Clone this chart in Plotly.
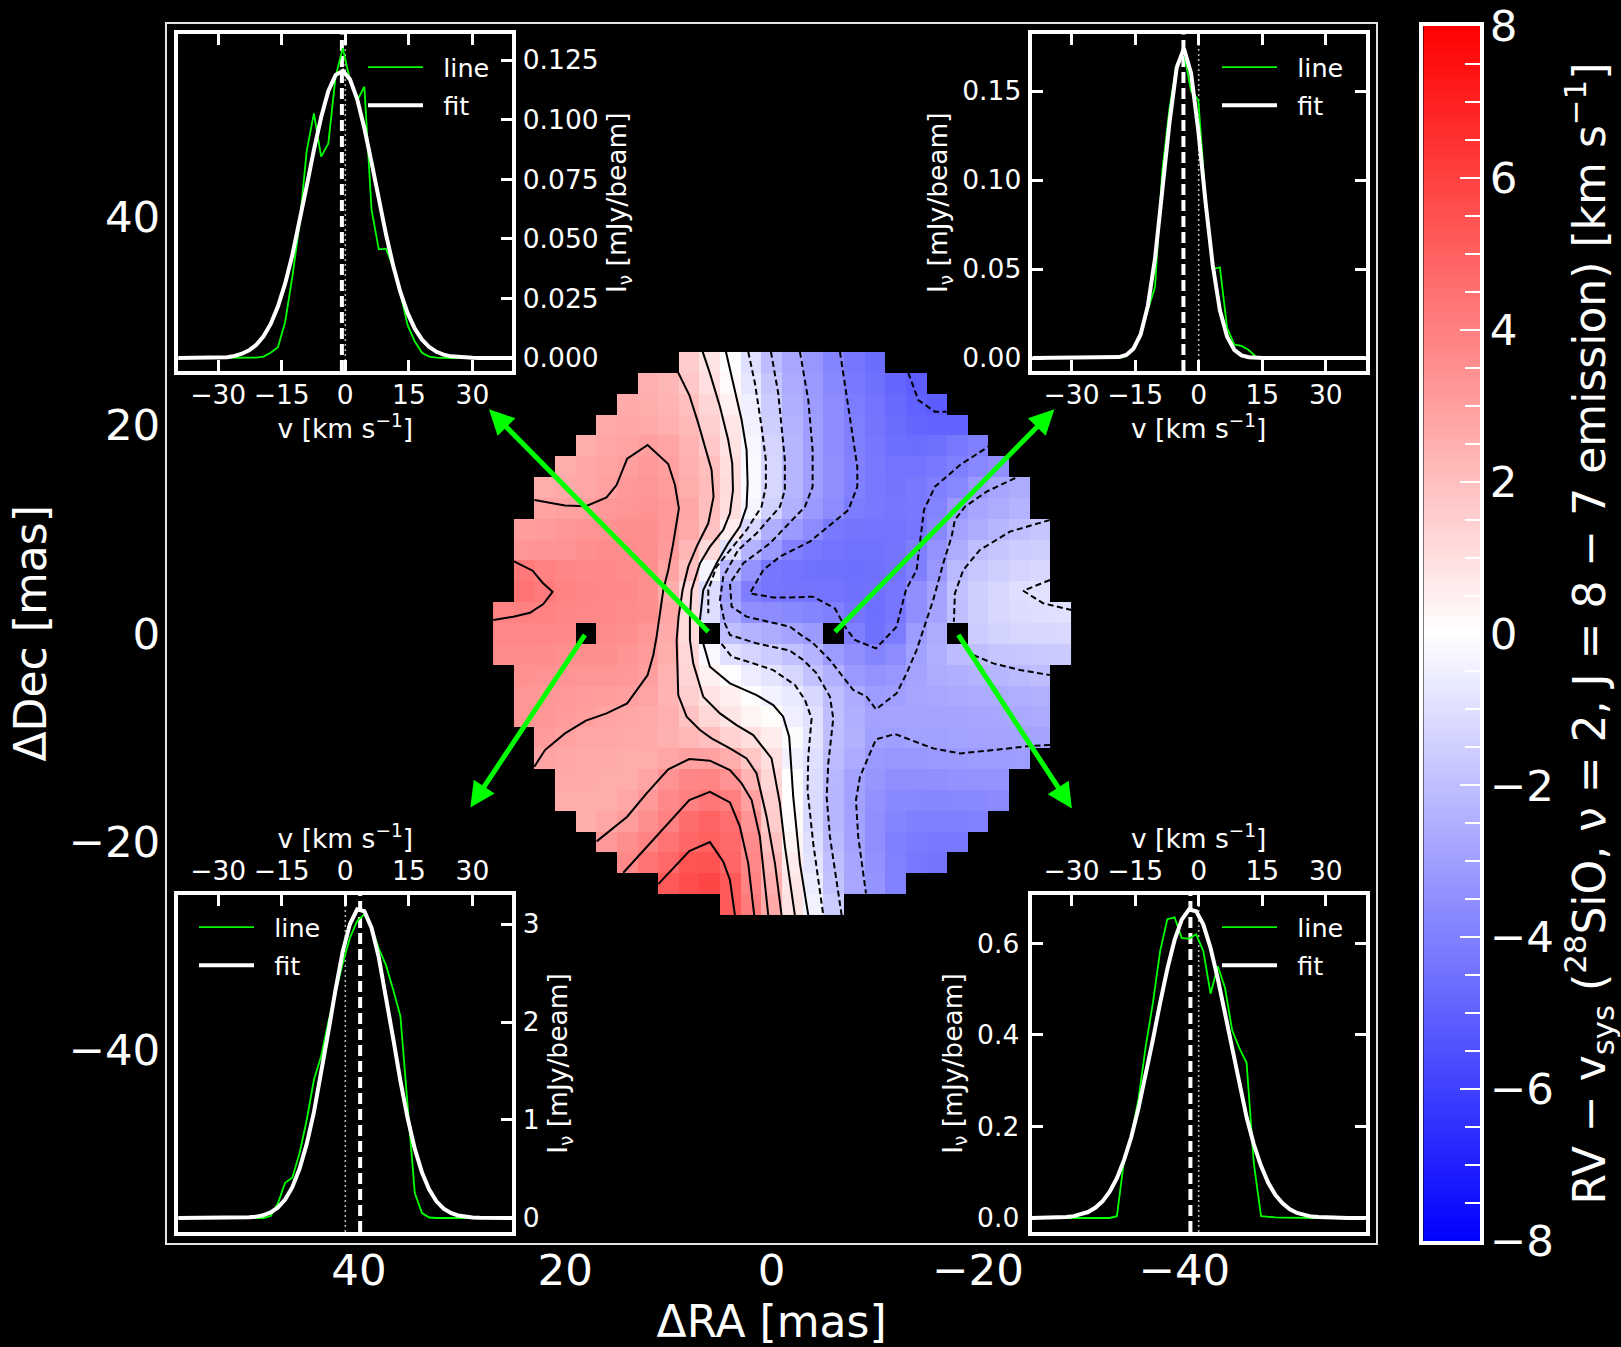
import plotly.graph_objects as go

FIG_W, FIG_H = 1621, 1347
FONT = "DejaVu Sans"
n = None

# ---------- velocity map (RV - vsys, km/s); rows run from Dec +26 to -26 mas ----------
ra_centres = [26, 24, 22, 20, 18, 16, 14, 12, 10, 8, 6, 4, 2, 0, -2, -4, -6, -8, -10, -12,
              -14, -16, -18, -20, -22, -24, -26, -28]
dec_centres = [26, 24, 22, 20, 18, 16, 14, 12, 10, 8, 6, 4, 2, 0, -2, -4, -6, -8, -10, -12,
               -14, -16, -18, -20, -22, -24, -26]
row_first_col = [9, 7, 6, 5, 4, 3, 2, 2, 1, 1, 1, 1, 0, 0, 0, 1, 1, 1, 2, 2, 3, 3, 4, 5, 6, 8, 11]
rv_rows = [
    [1.6, .85, -.05, -1.0, -2.1, -2.75, -3.25, -3.85, -4.3, -4.6],
    [2.5, 2.3, 1.75, 1.0, .2, -.8, -1.8, -2.65, -3.2, -3.7, -4.2, -4.5, -4.8, -5.1],
    [2.65, 2.55, 2.4, 2.0, 1.3, .45, -.5, -1.6, -2.5, -3.1, -3.6, -4.1, -4.4, -4.7, -4.95, -5.1],
    [2.7, 2.75, 2.7, 2.5, 2.2, 1.5, .8, -.4, -1.5, -2.4, -3.05, -3.6, -4.05, -4.35, -4.6, -4.8, -4.9, -4.9],
    [2.6, 2.8, 2.9, 3.0, 2.85, 2.4, 1.75, .9, -.25, -1.35, -2.3, -3.0, -3.6, -4.0, -4.3, -4.55, -4.6, -4.5, -4.25, -4.0],
    [2.6, 2.75, 2.9, 3.05, 3.2, 3.0, 2.5, 2.0, 1.05, -.2, -1.3, -2.3, -3.0, -3.5, -3.95, -4.2, -4.4, -4.4, -4.2, -4.0, -3.75, -3.5],
    [2.6, 2.7, 2.8, 2.95, 3.2, 3.3, 3.1, 2.6, 2.1, 1.1, -.2, -1.3, -2.3, -3.0, -3.5, -3.95, -4.2, -4.35, -4.2, -4.0, -3.75, -3.2, -2.8, -2.6],
    [2.9, 2.95, 3.02, 3.2, 3.3, 3.4, 3.2, 2.75, 2.05, 1.05, -.3, -1.45, -2.45, -3.2, -3.6, -4.1, -4.2, -4.3, -4.2, -3.9, -3.2, -2.8, -2.6, -2.4],
    [3.1, 3.15, 3.25, 3.35, 3.4, 3.5, 3.5, 3.2, 2.7, 1.9, .55, -1.25, -2.5, -3.15, -3.6, -4.2, -4.35, -4.4, -4.4, -4.3, -3.7, -2.9, -2.6, -2.3, -2.0, -1.8],
    [3.3, 3.35, 3.4, 3.5, 3.6, 3.6, 3.5, 3.15, 2.3, 1.15, -1.0, -2.4, -3.2, -3.95, -4.25, -4.4, -4.45, -4.45, -4.35, -4.05, -3.4, -2.6, -2.05, -1.8, -1.6, -1.5],
    [4.2, 3.95, 3.8, 3.7, 3.7, 3.65, 3.5, 2.9, 1.95, -.3, -2.35, -3.4, -4.3, -4.4, -4.45, -4.5, -4.55, -4.5, -4.4, -4.0, -3.25, -2.2, -1.75, -1.5, -1.35, -1.25],
    [4.4, 4.15, 3.9, 3.8, 3.75, 3.7, 3.5, 2.6, 1.2, -1.1, -3.0, -4.05, -4.3, -4.35, -4.35, -4.4, -4.5, -4.45, -4.3, -3.5, -2.9, -1.95, -1.55, -1.3, -1.05, -.9],
    [3.9, 4.0, 3.9, 3.8, 3.75, 3.7, 3.65, 3.5, 2.75, 1.15, -1.05, -2.7, -3.5, -3.6, -3.7, -3.85, -4.0, -4.35, -4.55, -4.3, -3.55, -2.85, -2.0, -1.5, -1.25, -1.1, -1.05, -.95],
    [3.75, 3.75, 3.75, 3.7, n, 3.65, 3.55, 3.3, 2.65, 1.1, n, -2.0, -2.4, -2.6, -2.85, -3.15, n, -4.05, -4.5, -4.1, -3.1, -2.6, n, -1.6, -1.4, -1.3, -1.25, -1.2],
    [3.65, 3.65, 3.6, 3.55, 3.55, 3.5, 3.35, 3.15, 2.55, 1.25, -.2, -.95, -1.35, -1.6, -1.95, -2.4, -3.1, -3.55, -3.85, -3.6, -2.95, -2.5, -2.1, -2.02, -1.85, -1.75, -1.7, -1.65],
    [3.45, 3.4, 3.35, 3.3, 3.3, 3.2, 3.0, 2.4, 1.35, .45, -.05, -.55, -.85, -1.3, -1.9, -2.45, -3.2, -3.4, -3.25, -2.85, -2.6, -2.5, -2.4, -2.3, -2.15, -2.05],
    [3.3, 3.25, 3.2, 3.15, 3.1, 3.0, 2.85, 2.4, 1.5, .9, .5, .1, -.45, -.7, -1.25, -2.05, -2.65, -3.1, -3.0, -2.8, -2.75, -2.7, -2.65, -2.6, -2.5, -2.45],
    [3.3, 3.25, 3.15, 3.05, 2.9, 2.8, 2.7, 2.5, 1.9, 1.25, .8, .35, .1, -.5, -.95, -2.0, -2.5, -2.9, -2.85, -2.85, -2.85, -2.85, -2.8, -2.75, -2.7, -2.65],
    [3.15, 2.95, 2.8, 2.75, 2.7, 2.65, 2.45, 2.25, 2.0, 1.45, 1.05, .55, -.1, -.85, -2.0, -2.45, -2.97, -3.0, -2.92, -2.97, -2.93, -2.9, -2.87, -2.87, -2.85],
    [2.9, 2.75, 2.7, 2.65, 2.6, 2.6, 2.75, 2.98, 2.95, 2.6, 1.8, 1.0, -.45, -1.0, -2.1, -2.65, -3.15, -3.25, -3.25, -3.2, -3.15, -3.1, -3.1, -3.05],
    [2.7, 2.65, 2.6, 2.6, 2.85, 3.4, 3.8, 3.85, 3.4, 2.4, 1.25, 0.0, -1.1, -2.25, -2.9, -3.3, -3.5, -3.5, -3.5, -3.45, -3.4, -3.35],
    [2.6, 2.55, 2.6, 2.8, 3.2, 3.7, 4.0, 4.3, 4.05, 2.95, 1.55, .05, -1.15, -2.3, -2.95, -3.45, -3.7, -3.75, -3.8, -3.75, -3.7, -3.65],
    [2.55, 2.8, 3.1, 3.55, 3.95, 4.6, 4.85, 4.55, 3.35, 1.6, .15, -1.2, -2.3, -2.9, -3.5, -3.85, -4.0, -4.05, -4.0, -3.95],
    [3.2, 3.5, 3.9, 4.4, 4.8, 5.0, 4.7, 3.6, 1.9, .35, -1.0, -2.2, -2.9, -3.55, -4.0, -4.15, -4.2, -4.2],
    [3.7, 4.4, 4.75, 5.35, 5.4, 4.8, 3.75, 2.25, .6, -.85, -2.0, -2.8, -3.45, -3.95, -4.25, -4.35],
    [5.2, 5.6, 5.8, 5.2, 3.9, 2.5, .8, -.6, -1.9, -2.75, -3.35, -3.95],
    [5.15, 4.1, 2.7, .9, -.4, -1.6],
]

# ---------- contours as (RA, Dec) vertices in mas ----------
c_p3_upper = [(23.0, 12.79), (20.03, 12.28), (18.0, 12.2), (16.0, 13.05), (15.03, 14.23), (14.0, 16.76),
              (12.02, 18.07), (10.02, 16.25), (9.37, 14.23), (8.99, 11.99), (9.54, 8.64), (10.02, 6.08),
              (10.5, 4.16), (10.83, 1.6), (11.15, -.32), (11.47, -2.08), (12.02, -4.0), (14.0, -6.72),
              (16.0, -7.68), (18.0, -8.38), (20.03, -9.6), (21.97, -11.2), (23.0, -12.8)]
c_p4_left = [(24.97, 6.91), (23.17, 6.01), (22.2, 4.86), (21.23, 3.98), (22.13, 2.81), (23.42, 1.98),
             (25.04, 1.6), (26.98, 1.28)]
c_p5 = [(10.99, -24.06), (7.98, -20.89), (5.98, -20.03), (4.69, -21.91), (4.04, -23.67), (3.56, -27.03)]
c_p4 = [(14.38, -22.97), (9.86, -18.07), (7.98, -16.0), (5.98, -15.2), (4.04, -16.22), (3.08, -18.55),
        (2.27, -22.07), (1.69, -27.03)]
c_p3_lower = [(16.96, -19.96), (14.0, -17.59), (12.12, -15.35), (10.02, -13.05), (7.98, -12.06), (5.98, -12.22),
              (4.04, -13.12), (2.91, -14.4), (1.94, -16.0), (1.14, -19.51), (.33, -27.03)]
c_p2 = [(9.05, 25.01), (7.98, 22.87), (7.11, 20.15), (6.3, 17.27), (5.82, 15.67), (5.63, 13.11), (6.14, 10.56),
        (7.27, 8.32), (8.08, 6.4), (8.63, 4.16), (9.02, 1.6), (9.21, -.64), (9.15, -2.88), (9.05, -5.92),
        (8.24, -8.0), (6.95, -9.28), (5.82, -10.08), (4.04, -11.04), (2.43, -12.0), (1.46, -13.44),
        (.49, -17.59), (-.32, -22.07), (-.96, -27.03)]
c_p1 = [(6.69, 27.03), (5.98, 24.95), (5.01, 21.75), (4.21, 18.55), (3.82, 16.31), (3.75, 13.75), (4.04, 11.52),
        (4.69, 9.92), (5.98, 8.32), (6.95, 6.72), (7.76, 4.16), (7.92, 1.6), (7.92, -.64), (7.6, -2.88),
        (6.63, -6.08), (5.01, -7.68), (3.4, -8.8), (1.78, -9.76), (.01, -12.0), (-.8, -16.31),
        (-1.29, -20.47), (-2.25, -27.03)]
c_zero = [(4.43, 27.03), (3.56, 23.35), (2.91, 20.47), (2.43, 17.59), (2.33, 14.39), (2.43, 12.15), (3.08, 10.24),
          (4.21, 8.64), (5.34, 6.72), (6.63, 4.16), (6.95, 1.28), (n, n), (6.63, -.96), (5.98, -3.2), (4.04, -4.8),
          (1.46, -5.92), (-.15, -6.88), (-1.12, -8.0), (-1.7, -9.92), (-2.09, -15.67), (-2.74, -22.07),
          (-3.55, -27.03)]
c_m1 = [(2.27, 27.03), (1.62, 24.0), (.98, 19.83), (.56, 16.63), (.56, 14.07), (.98, 12.15), (2.43, 9.92),
        (4.04, 8.0), (5.34, 6.4), (6.14, 4.16), (6.14, 1.92), (n, n), (4.85, -1.02), (3.88, -2.24), (1.78, -2.88),
        (-.15, -3.52), (-2.26, -4.96), (-3.23, -6.4), (-3.87, -8.16), (-3.55, -11.84), (-3.48, -15.04),
        (-4.03, -20.15), (-5.0, -27.03)]
c_m1_right = [(-26.97, 5.12), (-24.38, 4.09), (-26.32, 2.88), (-29.07, 2.24)]
c_m2 = [(.07, 27.03), (-.64, 23.03), (-1.28, 16.63), (-1.28, 13.75), (-.8, 12.15), (1.46, 9.6), (3.24, 8.0),
        (4.69, 5.44), (5.01, 3.2), (4.53, .96), (4.04, -.16), (1.46, -.96), (-1.77, -1.66), (-3.07, -2.56),
        (-4.36, -3.84), (-5.65, -6.08), (-5.97, -8.16), (-5.49, -12.48), (-5.33, -15.67), (-5.65, -19.51),
        (-6.78, -27.03)]
c_m2_right = [(-26.97, 10.88), (-23.09, 9.76), (-20.18, 8.0), (-18.57, 6.08), (-17.76, 3.84), (-17.66, 1.12), (n, n),
              (-19.54, -2.08), (-21.48, -2.88), (-24.06, -3.52), (-26.97, -4.0)]
c_m3 = [(-2.74, 27.03), (-3.55, 22.39), (-3.97, 17.59), (-3.97, 14.07), (-3.23, 12.15), (-.8, 9.6), (.17, 8.64),
        (2.75, 6.72), (4.04, 4.8), (3.88, 2.56), (2.43, 1.6), (-1.77, .64), (-3.07, -.32), (-3.87, -.8),
        (-5.65, -2.56), (-7.91, -5.44), (-9.2, -6.08), (-10.11, -7.29), (-12.11, -5.76), (-13.08, -3.84),
        (-14.05, -1.6), (-14.69, .32), (-15.66, 3.2), (-16.63, 6.72), (-17.44, 9.28), (-17.76, 10.88),
        (-18.73, 12.15), (-20.83, 13.6), (-23.74, 14.97)]
c_m3_lower = [(-26.97, -10.72), (-25.03, -10.81), (-21.48, -11.2), (-18.25, -11.52), (-15.66, -11.04), (-11.95, -9.66),
              (-10.11, -10.17), (-8.56, -13.76), (-8.17, -16.0), (-8.39, -19.51), (-9.14, -24.95)]
c_m4 = [(-6.62, 27.03), (-7.75, 19.83), (-8.3, 16.0), (-8.3, 14.07), (-7.43, 11.83), (-4.68, 9.6), (-3.71, 8.8),
        (-.8, 7.36), (.81, 6.08), (2.11, 3.84), (-.15, 3.45), (-1.77, 3.45), (-4.03, 3.52), (-6.13, 2.4),
        (-7.1, .64), (-8.07, -.64), (-10.11, -1.44), (-12.11, .64), (-13.01, 4.16), (-14.05, 6.08),
        (-14.37, 8.64), (-14.76, 11.83), (-15.82, 14.07), (-18.25, 16.15), (-20.99, 17.91)]
c_m5 = [(-13.24, 25.01), (-14.21, 22.39), (-15.82, 21.27), (-16.95, 21.27)]
solid_contours = [c_p5, c_p4, c_p4_left, c_p3_upper, c_p3_lower, c_p2, c_p1, c_zero]
dashed_contours = [c_m1, c_m1_right, c_m2, c_m2_right, c_m3, c_m3_lower, c_m4, c_m5]

# ---------- arrows: (tail RA, tail Dec, tip RA, tip Dec) ----------
arrows = [(6, 0, 27.4, 21.5), (-6, 0, -27.4, 21.5), (18, 0, 29.2, -16.7), (-18, 0, -29.1, -16.8)]

# ---------- spectra ----------
v_grid = [-39.7, -38.0, -36.3, -34.6, -32.9, -31.2, -29.5, -27.8, -26.1, -24.4, -22.7, -21.0, -19.3, -17.6, -15.9,
          -14.2, -12.5, -10.8, -9.1, -7.4, -5.7, -4.0, -2.3, -.6, 1.1, 2.8, 4.5, 6.2, 7.9, 9.6, 11.3, 13.0, 14.7,
          16.4, 18.1, 19.8, 21.5, 23.2, 24.9, 26.6, 28.3, 30.0, 31.7, 33.4, 35.1, 36.8, 38.5, 40.2]
v_grid_tr = [-39.2, -37.5, -35.8, -34.1, -32.4, -30.7, -29.0, -27.3, -25.6, -23.9, -22.2, -20.5, -18.8, -17.1, -15.4,
             -13.7, -12.0, -10.3, -8.6, -6.9, -5.2, -3.5, -1.8, -.1, 1.6, 3.3, 5.0, 6.7, 8.4, 10.1, 11.8, 13.5, 15.2,
             16.9, 18.6, 20.3, 22.0, 23.7, 25.4, 27.1, 28.8, 30.5, 32.2, 33.9, 35.6, 37.3, 39.0, 40.7]

line_tl = [0, 0, 0, 0, 0, 0, 0, 0, 0, 0, 0, .0002, .0006, .0022, .0045, .015, .034, .056, .087, .1026, .0845, .09, .118,
           .130, .1166, .108, .1138, .062, .0456, .0459, .038, .027, .0138, .0069, .0022, .0006, .0002, 0, 0, 0, 0, 0,
           0, 0, 0, 0, 0, 0]
fit_tl = [0, 0, 0, 0, 0, 0, 0, .0003, .0009, .0018, .0032, .0055, .0091, .0143, .0216, .0312, .0431, .057, .0722, .0873,
          .101, .112, .1187, .1205, .1169, .1086, .0964, .082, .0667, .0519, .0387, .0276, .0188, .0123, .0077, .0046,
          .0026, .0014, .0007, .0004, .0002, .0001, 0, 0, 0, 0, 0, 0]
line_tr = [0, 0, 0, 0, 0, 0, 0, 0, 0, 0, 0, 0, 0, .001, .0045, .012, .027, .04, .105, .14, .165, .172, .15, .145, .09, .05,
           .051, .017, .0075, .0068, .0045, .0008, 0, 0, 0, 0, 0, 0, 0, 0, 0, 0, 0, 0, 0, 0, 0, 0]
fit_tr = [0, 0, 0, 0, 0, 0, 0, 0, 0, 0, 0, 0, .0005, .0017, .0052, .0132, .0293, .056, .0926, .132, .163, .174, .160,
          .128, .0879, .0524, .0268, .0119, .0046, .0015, .0004, 0, 0, 0, 0, 0, 0, 0, 0, 0, 0, 0, 0, 0, 0, 0, 0, 0]
line_bl = [0, 0, 0, 0, 0, 0, 0, 0, 0, 0, 0, 0, 0, .02, .15, .36, .41, .66, 1.0, 1.41, 1.65, 2.0, 2.3, 2.6, 2.86, 3.03,
           3.1, 2.97, 2.75, 2.58, 2.33, 2.06, 1.15, .255, .05, .005, 0, 0, 0, 0, 0, 0, 0, 0, 0, 0, 0, 0]
fit_bl = [0, 0, 0, 0, 0, 0, 0, .0005, .001, .003, .0065, .014, .029, .057, .107, .188, .314, .502, .756, 1.08, 1.47, 1.90,
          2.33, 2.72, 3.0, 3.15, 3.13, 2.96, 2.66, 2.26, 1.83, 1.40, 1.02, .705, .464, .289, .17, .095, .051, .026,
          .012, .006, .002, .001, 0, 0, 0, 0]
line_br = [0, 0, 0, 0, 0, 0, 0, 0, 0, 0, 0, 0, .004, .127, .18, .26, .375, .47, .583, .653, .657, .612, .61, .62, .583,
           .49, .55, .503, .41, .371, .339, .12, .004, .002, .0015, .001, .0005, 0, 0, 0, 0, 0, 0, 0, 0, 0, 0, 0]
fit_br = [0, 0, 0, 0, .001, .002, .004, .0074, .013, .0223, .0364, .0573, .087, .127, .177, .24, .312, .39, .47, .544, .607,
          .652, .674, .67, .641, .59, .523, .447, .367, .29, .22, .161, .114, .077, .05, .032, .019, .011, .006, .003,
          .002, .001, 0, 0, 0, 0, 0, 0]
fit_centres = {"tl": -0.8, "tr": -3.6, "bl": 3.5, "br": -1.95}
v_ticks = [-30, -15, 0, 15, 30]

# ---------- layout helpers (pixel rectangles converted to paper fractions) ----------
def xdom(a, b):
    return [a / FIG_W, b / FIG_W]

def ydom(top, bottom):
    return [1 - bottom / FIG_H, 1 - top / FIG_H]

fig = go.Figure()

# main map
rv_table = []
for first, vals in zip(row_first_col, rv_rows):
    row = [None] * first + vals
    rv_table.append(row + [None] * (28 - len(row)))
BWR = [[0, "#0000ff"], [.5, "#ffffff"], [1, "#ff0000"]]
fig.add_trace(go.Heatmap(x=ra_centres, y=dec_centres, z=rv_table, colorscale=BWR, zmin=-8, zmax=8,
                         showscale=False, hoverongaps=False, xgap=0, ygap=0))
for group, dash in ((solid_contours, "solid"), (dashed_contours, "6px,3.5px")):
    for c in group:
        fig.add_trace(go.Scatter(x=[p[0] for p in c], y=[p[1] for p in c], mode="lines", showlegend=False,
                                 connectgaps=False, line=dict(color="black", width=2, dash=dash)))

AXFONT = dict(family=FONT, size=43.5, color="white")
TITLEFONT = dict(family=FONT, size=44, color="white")
INFONT = dict(family=FONT, size=26.5, color="white")
LEGFONT = dict(family=FONT, size=25.5, color="white")
FRAME = "#e4e4e4"
fig.update_layout(
    width=FIG_W, height=FIG_H, margin=dict(l=0, r=0, t=0, b=0, autoexpand=False),
    paper_bgcolor="black", plot_bgcolor="black", font=dict(family=FONT, color="white"), showlegend=True,
    xaxis=dict(domain=xdom(167, 1376.3), range=[58.6, -58.6], dtick=20, tick0=0, showgrid=False, zeroline=False,
               showline=True, mirror=True, linewidth=2, linecolor=FRAME, ticks="", tickfont=AXFONT,
               ticklabelstandoff=-12, anchor="y",
               title=dict(text="ΔRA [mas]", font=TITLEFONT, standoff=24)),
    yaxis=dict(domain=ydom(23.7, 1243), range=[-58.5, 58.5], dtick=20, tick0=0, showgrid=False, zeroline=False,
               showline=True, mirror=True, linewidth=2, linecolor=FRAME, ticks="", tickfont=AXFONT,
               ticklabelstandoff=-4, anchor="x",
               title=dict(text="ΔDec [mas]", font=TITLEFONT, standoff=8)),
)

# insets
insets = [
    dict(key="tl", n=2, xpx=(178.3, 512.3), ypx=(34.3, 371), yrange=[-.00545, .1358], dtick=.025, fmt=".3f",
         xside="bottom", yside="right", xmirror="ticks", ymirror=True, v=v_grid, line=line_tl, fit=fit_tl,
         legend=(363, 44), xstand=-3, xtitle=8, ystand=1, ytitle=11),
    dict(key="tr", n=3, xpx=(1031.7, 1365.7), ypx=(34.3, 371), yrange=[-.0073, .1819], dtick=.05, fmt=".2f",
         xside="bottom", yside="left", xmirror="ticks", ymirror="ticks", v=v_grid_tr, line=line_tr, fit=fit_tr,
         legend=(1217, 44), xstand=-3, xtitle=8, ystand=1, ytitle=8),
    dict(key="bl", n=4, xpx=(178.3, 512.3), ypx=(895, 1232), yrange=[-.143, 3.296], dtick=1, fmt="d",
         xside="top", yside="right", xmirror=True, ymirror=True, v=v_grid, line=line_bl, fit=fit_bl,
         legend=(194, 904), xstand=0, xtitle=0, ystand=1, ytitle=11),
    dict(key="br", n=5, xpx=(1031.7, 1365.7), ypx=(895, 1232), yrange=[-.0306, .7057], dtick=.2, fmt=".1f",
         xside="top", yside="left", xmirror=True, ymirror="ticks", v=v_grid, line=line_br, fit=fit_br,
         legend=(1217, 904), xstand=0, xtitle=0, ystand=3, ytitle=8),
]
for ins in insets:
    k = ins["n"]
    xname, yname = f"x{k}", f"y{k}"
    lname = f"legend{k}"
    yr = ins["yrange"]
    centre = fit_centres[ins["key"]]
    fig.add_trace(go.Scatter(x=[0, 0], y=yr, xaxis=xname, yaxis=yname, mode="lines", showlegend=False,
                             line=dict(color="#b0b0b0", width=1.6, dash="2px,3px")))
    fig.add_trace(go.Scatter(x=[centre, centre], y=yr, xaxis=xname, yaxis=yname, mode="lines", showlegend=False,
                             line=dict(color="white", width=4, dash="11px,5px")))
    fig.add_trace(go.Scatter(x=ins["v"], y=ins["line"], xaxis=xname, yaxis=yname, mode="lines", name="\u2002\u200aline",
                             legend=lname, legendgroup=f"{ins['key']}-line", line=dict(color="#00ff00", width=1.8)))
    fig.add_trace(go.Scatter(x=ins["v"], y=ins["fit"], xaxis=xname, yaxis=yname, mode="lines", name="\u2002\u200afit",
                             legend=lname, legendgroup=f"{ins['key']}-fit", line=dict(color="white", width=4)))
    fig.update_layout({
        f"xaxis{k}": dict(domain=xdom(*ins["xpx"]), range=[-39.4, 39.4], tickvals=v_ticks, side=ins["xside"],
                          anchor=yname, showgrid=False, zeroline=False, showline=True, mirror=ins["xmirror"],
                          linewidth=4.3, linecolor="white", ticks="inside", ticklen=11, tickwidth=3, tickcolor="white",
                          tickfont=INFONT, ticklabelstandoff=ins["xstand"],
                          title=dict(text="v [km s<sup>−1</sup>]", font=INFONT, standoff=ins["xtitle"])),
        f"yaxis{k}": dict(domain=ydom(*ins["ypx"]), range=ins["yrange"], dtick=ins["dtick"], tick0=0, tickformat=ins["fmt"],
                          side=ins["yside"], anchor=xname, showgrid=False, zeroline=False, showline=True,
                          mirror=ins["ymirror"], linewidth=4.3, linecolor="white", ticks="inside", ticklen=11, tickwidth=3,
                          tickcolor="white", tickfont=INFONT, ticklabelstandoff=ins["ystand"],
                          title=dict(text="I<sub>ν</sub> [mJy/beam]", font=INFONT, standoff=ins["ytitle"])),
        lname: dict(x=ins["legend"][0] / FIG_W, y=1 - ins["legend"][1] / FIG_H, xanchor="left", yanchor="top",
                    bgcolor="rgba(0,0,0,0)", borderwidth=0, font=LEGFONT, itemwidth=55, tracegroupgap=2,
                    itemclick=False, itemdoubleclick=False),
    })

# colour bar as its own axis, so that it can carry major and minor ticks
cbar_levels = [i / 16 for i in range(-128, 129)]
fig.add_trace(go.Heatmap(x=[0], y=cbar_levels, z=[[v] for v in cbar_levels], xaxis="x6", yaxis="y6", colorscale=BWR,
                         zmin=-8, zmax=8, showscale=False))
fig.update_layout(
    xaxis6=dict(domain=xdom(1423.3, 1480), range=[-.5, .5], anchor="y6", showticklabels=False, ticks="", showgrid=False,
                zeroline=False, showline=True, mirror=True, linewidth=4.3, linecolor="white"),
    yaxis6=dict(domain=ydom(26, 1241), range=[-8, 8], anchor="x6", side="right", dtick=2, tick0=0, showgrid=False,
                zeroline=False, showline=True, mirror=True, linewidth=4.3, linecolor="white", ticks="inside",
                ticklen=20, tickwidth=2, tickcolor="white", tickfont=AXFONT, ticklabelstandoff=-3,
                minor=dict(dtick=.5, tick0=0, ticks="inside", ticklen=15, tickwidth=2, tickcolor="white", showgrid=False),
                title=dict(text="RV − v<sub>sys</sub> (<sup>28</sup>SiO, ν = 2, J = 8 − 7 emission) [km s<sup>−1</sup>]",
                           font=TITLEFONT, standoff=29)),
)

for tail_ra, tail_dec, tip_ra, tip_dec in arrows:
    fig.add_annotation(x=tip_ra, y=tip_dec, ax=tail_ra, ay=tail_dec, xref="x", yref="y", axref="x", ayref="y", text="",
                       showarrow=True, arrowhead=2, arrowsize=1, arrowwidth=5, arrowcolor="#00ff00", standoff=0)

fig.write_html("out.html", config={"displayModeBar": False},
               post_script="document.body.style.margin='0';document.body.style.background='black';")
